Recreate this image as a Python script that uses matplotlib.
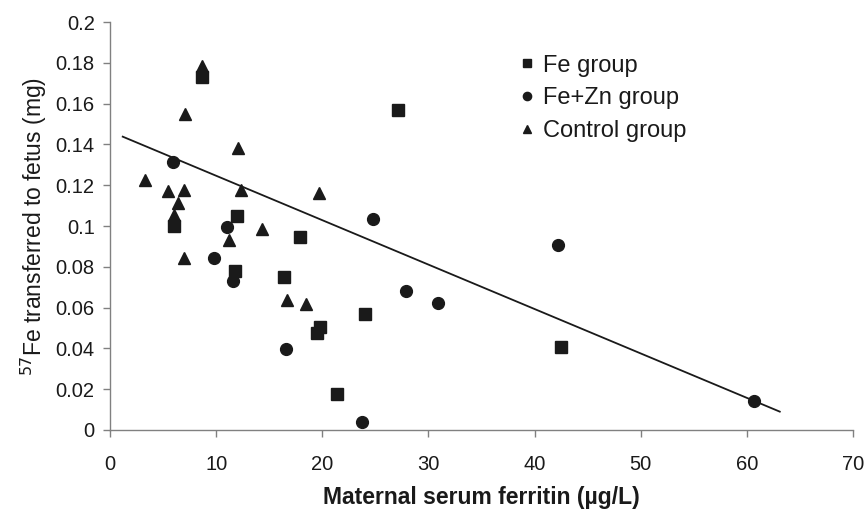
import matplotlib
matplotlib.use("Agg")
import matplotlib.pyplot as plt

plt.rcParams["font.family"] = ["Liberation Sans", "DejaVu Sans"]

# Fe group (squares)
fe_x = [8.7, 27.1, 6.0, 12.0, 17.9, 11.8, 16.4, 24.0, 19.8, 19.5, 21.4, 42.5]
fe_y = [0.173, 0.157, 0.100, 0.105, 0.0945, 0.078, 0.075, 0.057, 0.0505, 0.0475, 0.0175, 0.0405]

# Fe+Zn group (circles)
fezn_x = [5.9, 11.05, 9.8, 11.6, 16.6, 23.7, 24.8, 27.9, 30.9, 42.2, 60.7]
fezn_y = [0.1315, 0.0995, 0.0845, 0.073, 0.0395, 0.0038, 0.1035, 0.068, 0.0625, 0.0905, 0.0142]

# Control group (triangles)
ctrl_x = [8.7, 7.1, 12.1, 3.3, 5.5, 7.0, 6.4, 6.0, 12.3, 19.7, 14.3, 11.2, 7.0, 16.7, 18.5]
ctrl_y = [0.1785, 0.155, 0.138, 0.1225, 0.117, 0.1175, 0.1115, 0.1055, 0.1175, 0.116,
          0.0987, 0.093, 0.0842, 0.0637, 0.0616]

# trend line end points
trend_x = [1.2, 63.1]
trend_y = [0.1438, 0.009]

fig = plt.figure(figsize=(8.66, 5.13), dpi=100)
ax = fig.add_axes([0.127, 0.1618, 0.858, 0.7953])

ms = 8.5
ax.plot(trend_x, trend_y, color="#1a1a1a", lw=1.3, zorder=1)
ax.plot(fe_x, fe_y, "s", color="#1a1a1a", ms=ms - 0.5, ls="none", label="Fe group", zorder=2)
ax.plot(fezn_x, fezn_y, "o", color="#1a1a1a", ms=ms, ls="none", label="Fe+Zn group", zorder=2)
ax.plot(ctrl_x, ctrl_y, "^", color="#1a1a1a", ms=ms, ls="none", label="Control group", zorder=2)

ax.set_xlim(0, 70)
ax.set_ylim(0, 0.2)
ax.set_xticks(range(0, 71, 10))
ax.set_yticks([i * 0.02 for i in range(11)])
ax.set_yticklabels(["0", "0.02", "0.04", "0.06", "0.08", "0.1", "0.12", "0.14",
                    "0.16", "0.18", "0.2"])

for s in ["top", "right"]:
    ax.spines[s].set_visible(False)
for s in ["left", "bottom"]:
    ax.spines[s].set_color("#808080")
    ax.spines[s].set_linewidth(1.0)
ax.tick_params(direction="out", length=5, width=1, color="#808080",
               labelsize=14.5, labelcolor="#1a1a1a")
ax.tick_params(axis="y", pad=6)
ax.tick_params(axis="x", pad=13)

ax.set_xlabel("Maternal serum ferritin (µg/L)", fontsize=16.5, fontweight="bold",
              color="#1a1a1a", labelpad=9)
ax.set_ylabel("$^{57}$Fe transferred to fetus (mg)", fontsize=16.5, color="#1a1a1a",
              labelpad=5)

leg = ax.legend(loc="upper left", bbox_to_anchor=(0.552, 0.92), frameon=False,
                fontsize=17, handletextpad=0.35, labelspacing=0.45,
                handlelength=0.6, markerscale=0.7, borderpad=0, borderaxespad=0)
for t in leg.get_texts():
    t.set_color("#1a1a1a")

fig.savefig("out.png", dpi=100)
